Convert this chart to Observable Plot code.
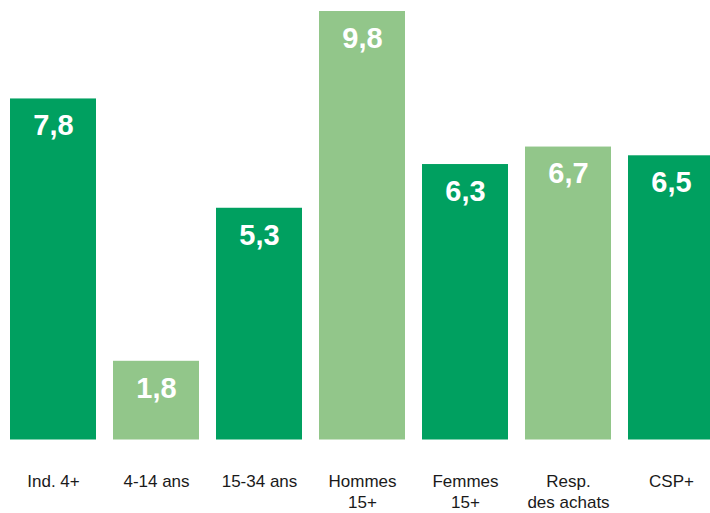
<!DOCTYPE html>
<html>
<head>
<meta charset="utf-8">
<script src="https://cdn.jsdelivr.net/npm/d3@7"></script>
<script src="https://cdn.jsdelivr.net/npm/@observablehq/plot@0.6"></script>
<style>
  html, body { margin: 0; padding: 0; background: #fff; }
  #chart svg { display: block; }
</style>
</head>
<body>
<div id="chart"></div>
<script>
const categories = ["Ind. 4+", "4-14 ans", "15-34 ans", "Hommes\n15+", "Femmes\n15+", "Resp.\ndes achats", "CSP+"];
const values = [7.8, 1.8, 5.3, 9.8, 6.3, 6.7, 6.5];
const groups = ["A", "B", "A", "B", "A", "B", "A"];

const data = categories.map((c, i) => ({ cat: c, value: values[i], group: groups[i] }));
const fmt = v => v.toFixed(1).replace(".", ",");

const chart = Plot.plot({
  width: 710,
  height: 513,
  marginTop: 11,
  marginBottom: 73.5,
  marginLeft: 0,
  marginRight: 0,
  style: { fontFamily: "'Liberation Sans', Arial, sans-serif", background: "#fff" },
  x: { domain: categories, range: [9, 714.7], paddingInner: 0.162, paddingOuter: 0, label: null },
  y: { domain: [0, 9.8], axis: null },
  color: { domain: ["A", "B"], range: ["#00A060", "#92C68A"] },
  marks: [
    Plot.barY(data, { x: "cat", y: "value", fill: "group" }),
    Plot.text(data, {
      x: "cat", y: "value", text: d => fmt(d.value),
      dy: 27, fill: "#fff", fontSize: 29, fontWeight: "bold"
    }),
    Plot.axisX({ tickSize: 0, tickPadding: 32, fontSize: 17, lineHeight: 1.24, fill: "#1a1a1a", label: null })
  ]
});
document.getElementById("chart").appendChild(chart);
</script>
</body>
</html>
